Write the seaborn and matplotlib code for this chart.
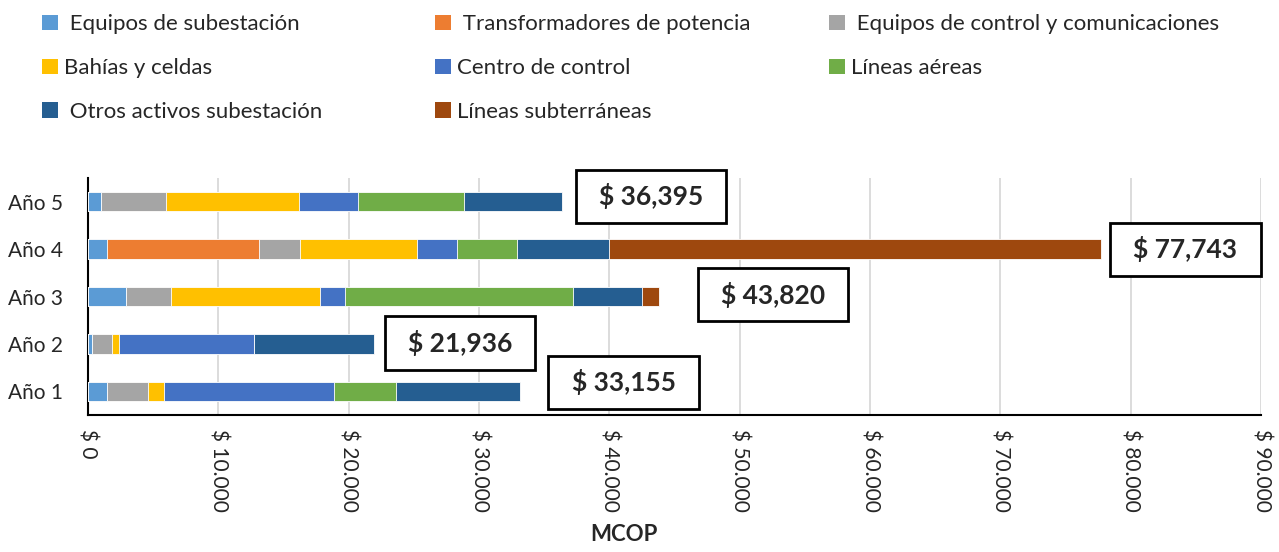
import numpy as np
import pandas as pd
import matplotlib
matplotlib.use('Agg')
import matplotlib.pyplot as plt
from matplotlib.patches import Patch, Rectangle
import seaborn as sns

# data (MCOP)
anios = ['Año 5', 'Año 4', 'Año 3', 'Año 2', 'Año 1']
equipos_sub = [1030, 1460, 2880, 290, 1460]
transformadores = [0, 11670, 0, 0, 0]
equipos_control = [4970, 3170, 3480, 1560, 3120]
bahias = [10170, 8940, 11470, 540, 1230]
centro_control = [4560, 3060, 1860, 10330, 13030]
lineas_aereas = [8080, 4650, 17540, 0, 4810]
otros_activos = [7585, 7020, 5250, 9216, 9505]
lineas_subt = [0, 37773, 1340, 0, 0]

series = ['Equipos de subestación', 'Transformadores de potencia',
          'Equipos de control y comunicaciones', 'Bahías y celdas',
          'Centro de control', 'Líneas aéreas', 'Otros activos subestación',
          'Líneas subterráneas']
colores = ['#5B9BD5', '#ED7D31', '#A5A5A5', '#FFC000',
           '#4472C4', '#70AD47', '#255E91', '#9E480E']

df = pd.DataFrame({
    'anio': anios,
    series[0]: equipos_sub,
    series[1]: transformadores,
    series[2]: equipos_control,
    series[3]: bahias,
    series[4]: centro_control,
    series[5]: lineas_aereas,
    series[6]: otros_activos,
    series[7]: lineas_subt,
})

sns.set_style('white')
plt.rcParams['font.family'] = ['Lato', 'DejaVu Sans']

fig = plt.figure(figsize=(12.79, 5.52), dpi=100)
ax = fig.add_axes([0.0688, 0.248, 0.9172, 0.4295])

# stacked bars: draw the cumulative sums from the last series backwards
cum = df[series].cumsum(axis=1)
for s, c in reversed(list(zip(series, colores))):
    tmp = pd.DataFrame({'anio': df['anio'], 'valor': cum[s]})
    sns.barplot(data=tmp, y='anio', x='valor', color=c, saturation=1, width=0.41,
                edgecolor='white', linewidth=0.6, ax=ax, zorder=3)

# total labels in boxes
totales = df[series].sum(axis=1)
dx = [6805, 6457, 8740, 6604, 7935]
dy = [-0.116, 0.0, -0.04, -0.02, -0.19]
box_w, box_h = 11550, 1.12
for i, t in enumerate(totales):
    cx, cy = t + dx[i], i + dy[i]
    ax.add_patch(Rectangle((cx - box_w / 2, cy - box_h / 2), box_w, box_h,
                           facecolor='white', edgecolor='black', linewidth=2,
                           zorder=5, clip_on=False))
    ax.text(cx, cy, '$ {:,}'.format(int(t)), ha='center', va='center',
            fontsize=19, fontweight='bold', zorder=6)

ax.set_xlim(0, 90000)
ax.set_ylim(4.5, -0.5)
ax.set_xticks(np.arange(0, 90001, 10000))
ax.set_xticklabels(['$ 0'] + ['$ {:,}'.format(v).replace(',', '.') for v in range(10000, 90001, 10000)],
                   rotation=-90, fontsize=15, va='top', ha='center')
ax.tick_params(axis='x', length=0, pad=10)
ax.tick_params(axis='y', length=0, pad=18, labelsize=15)
ax.grid(axis='x', color='#d9d9d9', linewidth=1.3, zorder=0)
ax.grid(axis='y', visible=False)
for side in ['top', 'right']:
    ax.spines[side].set_visible(False)
for side in ['left', 'bottom']:
    ax.spines[side].set_color('black')
    ax.spines[side].set_linewidth(1.5)
ax.set_ylabel('')
ax.set_xlabel('MCOP', fontsize=16, fontweight='bold')
ax.xaxis.set_label_coords(0.457, -0.46)

# legend laid out in three columns like the original
cols = [[0, 3, 6], [1, 4, 7], [2, 5]]
xs = [0.0172, 0.3245, 0.6325]
espacio = {0, 1, 2, 6}
for col, x0 in zip(cols, xs):
    handles = [Patch(facecolor=colores[k], edgecolor='none',
                     label=(' ' + series[k]) if k in espacio else series[k]) for k in col]
    fig.legend(handles=handles, loc='upper left', bbox_to_anchor=(x0, 1.01),
               frameon=False, fontsize=16, handlelength=0.7, handleheight=0.7,
               handletextpad=0.3, labelspacing=1.07)

fig.savefig('out.png', dpi=100)
